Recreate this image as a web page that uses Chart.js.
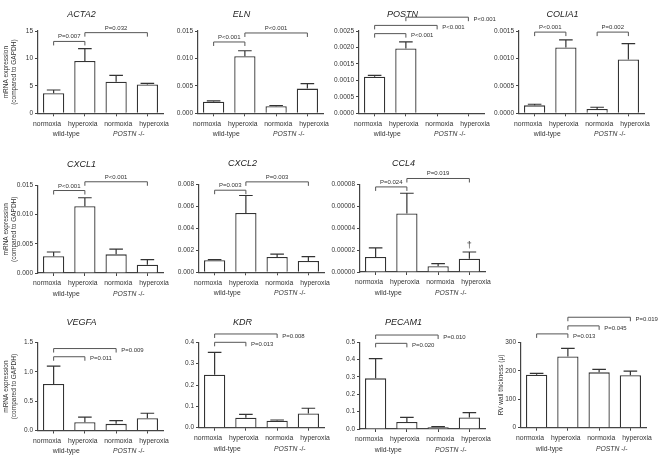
<!DOCTYPE html>
<html>
<head>
<meta charset="utf-8">
<script src="https://cdn.jsdelivr.net/npm/chart.js@4.4.0/dist/chart.umd.min.js"></script>
<style>
  body { margin: 0; background: #fff; }
  #fig { position: relative; width: 661px; height: 459px; overflow: hidden; }
  #fig canvas { position: absolute; }
</style>
</head>
<body>
<div id="fig"></div>
<script>
"use strict";
// ========== DATA ========== //
const categories = ['normoxia', 'hyperoxia', 'normoxia', 'hyperoxia'];
const groups = ['wild-type', 'POSTN -/-'];
const mrnaTitle = ['mRNA expression', '(compared to GAPDH)'];
const rvTitle = 'RV wall thickness (\u03bc)';

// mean, error (SEM) and y tick labels per gene; brackets = [from, to, level, label, label side]
const acta2Mean = [3.65, 9.55, 5.75, 5.27];
const acta2Err = [0.6, 2.25, 1.15, 0.18];
const acta2Ticks = ['0', '5', '10', '15'];
const acta2Brackets = [[0, 1, 13.1, 'P=0.007', 'above'], [1, 3, 14.7, 'P=0.032', 'above']];

const elnMean = [0.0021, 0.0104, 0.0013, 0.0045];
const elnErr = [0.00015, 0.001, 0.00012, 0.0009];
const elnTicks = ['0.000', '0.005', '0.010', '0.015'];
const elnBrackets = [[0, 1, 0.0130, 'P<0.001', 'above'], [1, 3, 0.01464, 'P<0.001', 'above']];

const postnMean = [0.00111, 0.00197, 0, 0];
const postnErr = [0.00004, 0.0002, 0, 0];
const postnTicks = ['0.0000', '0.0005', '0.0010', '0.0015', '0.0020', '0.0025'];
const postnBrackets = [[0, 1, 0.00242, 'P<0.001', 'right'], [0, 2, 0.00267, 'P<0.001', 'right'], [1, 3, 0.00292, 'P<0.001', 'right']];

const colia1Mean = [0.000145, 0.0012, 0.00008, 0.00098];
const colia1Err = [0.00002, 0.00014, 0.00003, 0.00029];
const colia1Ticks = ['0.0000', '0.0005', '0.0010', '0.0015'];
const colia1Brackets = [[0, 1, 0.00148, 'P<0.001', 'above'], [2, 3, 0.00148, 'P=0.002', 'above']];

const cxcl1Mean = [0.00286, 0.01145, 0.0032, 0.00143];
const cxcl1Err = [0.00074, 0.00145, 0.0009, 0.00087];
const cxcl1Ticks = ['0.000', '0.005', '0.010', '0.015'];
const cxcl1Brackets = [[0, 1, 0.01414, 'P<0.001', 'above'], [1, 3, 0.01564, 'P<0.001', 'above']];

const cxcl2Mean = [0.0011, 0.0054, 0.0014, 0.00103];
const cxcl2Err = [0.00005, 0.0016, 0.00025, 0.0004];
const cxcl2Ticks = ['0.000', '0.002', '0.004', '0.006', '0.008'];
const cxcl2Brackets = [[0, 1, 0.00748, 'P=0.003', 'above'], [1, 3, 0.00824, 'P=0.003', 'above']];

const ccl4Mean = [0.0000137, 0.0000535, 0.0000052, 0.0000122];
const ccl4Err = [0.0000083, 0.0000185, 0.0000024, 0.0000061];
const ccl4Ticks = ['0.00000', '0.00002', '0.00004', '0.00006', '0.00008'];
const ccl4Brackets = [[0, 1, 0.0000778, 'P=0.024', 'above'], [1, 3, 0.0000855, 'P=0.019', 'above']];

const vegfaMean = [0.795, 0.142, 0.114, 0.21];
const vegfaErr = [0.305, 0.085, 0.056, 0.085];
const vegfaTicks = ['0.0', '0.5', '1.0', '1.5'];
const vegfaBrackets = [[0, 1, 1.26, 'P=0.011', 'right'], [0, 2, 1.40, 'P=0.009', 'right']];

const kdrMean = [0.248, 0.047, 0.033, 0.067];
const kdrErr = [0.105, 0.0155, 0.003, 0.024];
const kdrTicks = ['0.0', '0.1', '0.2', '0.3', '0.4'];
const kdrBrackets = [[0, 1, 0.40, 'P=0.013', 'right'], [0, 2, 0.439, 'P=0.008', 'right']];

const pecam1Mean = [0.292, 0.0404, 0.0096, 0.067];
const pecam1Err = [0.114, 0.027, 0.004, 0.027];
const pecam1Ticks = ['0.0', '0.1', '0.2', '0.3', '0.4', '0.5'];
const pecam1Brackets = [[0, 1, 0.494, 'P=0.020', 'right'], [0, 2, 0.542, 'P=0.010', 'right']];

const rvMean = [186, 250, 194.5, 184];
const rvErr = [5, 29, 10.5, 15];
const rvTicks = ['0', '100', '200', '300'];
const rvBrackets = [[0, 1, 329.5, 'P=0.013', 'right'], [1, 2, 357.7, 'P=0.045', 'right'], [1, 3, 388, 'P=0.019', 'right']];

// ========== STYLE / LAYOUT ========== //
const FONT = "'Liberation Sans', Arial, sans-serif";
const INK = '#333';
const Y_AXIS_W = 38;
const X_AXIS_H = 28;
const TITLE_SIZE = 9;
const LABEL_SPREAD = 1.14; // category labels sit a bit wider apart than the tick marks

const _fig = document.querySelector('#fig');

// draws error bars, significance brackets, category and group labels
function annotPlugin(p) {
  return {
    id: 'annot',
    afterDatasetsDraw(chart) {
      const ctx = chart.ctx;
      const xs = chart.scales.x, ys = chart.scales.y;
      const meta = chart.getDatasetMeta(0);
      ctx.save();
      ctx.strokeStyle = INK;
      ctx.lineWidth = 1.2;
      p.mean.forEach(function(m, i) {
        if (!p.err[i]) return;
        const bar = meta.data[i];
        const cap = bar.width * 0.32;
        const y0 = ys.getPixelForValue(m), y1 = ys.getPixelForValue(m + p.err[i]);
        ctx.beginPath();
        ctx.moveTo(bar.x, y0); ctx.lineTo(bar.x, y1);
        ctx.moveTo(bar.x - cap, y1); ctx.lineTo(bar.x + cap, y1);
        ctx.stroke();
      });
      ctx.lineWidth = 1;
      ctx.strokeStyle = '#555';
      ctx.fillStyle = INK;
      ctx.font = '6px ' + FONT;
      p.brackets.forEach(function(b) {
        const xa = xs.getPixelForValue(b[0]), xb = xs.getPixelForValue(b[1]);
        const yl = ys.getPixelForValue(b[2]);
        ctx.beginPath();
        ctx.moveTo(xa, yl + 4); ctx.lineTo(xa, yl); ctx.lineTo(xb, yl); ctx.lineTo(xb, yl + 4);
        ctx.stroke();
        if (b[4] === 'above') {
          ctx.textAlign = 'center'; ctx.textBaseline = 'alphabetic';
          ctx.fillText(b[3], (xa + xb) / 2, yl - 3);
        } else {
          ctx.textAlign = 'left'; ctx.textBaseline = 'middle';
          ctx.fillText(b[3], xb + 5, yl + 2);
        }
      });
      if (p.marker) {
        const i = p.marker[0];
        ctx.font = '9px ' + FONT;
        ctx.textAlign = 'center'; ctx.textBaseline = 'alphabetic';
        ctx.fillText(p.marker[1], meta.data[i].x, ys.getPixelForValue(p.mean[i] + p.err[i]) - 4);
      }

      // category labels
      const mid = (xs.left + xs.right) / 2;
      const ly = chart.chartArea.bottom + 10.5;
      ctx.font = '6.8px ' + FONT;
      ctx.textAlign = 'center';
      ctx.textBaseline = 'middle';
      categories.forEach(function(c, i) {
        ctx.fillText(c, mid + (xs.getPixelForValue(i) - mid) * LABEL_SPREAD, ly);
      });

      // group labels
      const gy = chart.chartArea.bottom + 21;
      ctx.textAlign = 'left';
      [[0, 1], [2, 3]].forEach(function(pair, g) {
        const cx = (xs.getPixelForValue(pair[0]) + xs.getPixelForValue(pair[1])) / 2 - 3;
        const txt = groups[g];
        if (txt.indexOf('POSTN') === 0) {
          const rest = txt.slice(5);
          ctx.font = 'italic 6.8px ' + FONT;
          const w1 = ctx.measureText('POSTN').width;
          ctx.font = '6.8px ' + FONT;
          const w2 = ctx.measureText(rest).width;
          const x0 = cx - (w1 + w2) / 2;
          ctx.font = 'italic 6.8px ' + FONT;
          ctx.fillText('POSTN', x0, gy);
          ctx.font = '6.8px ' + FONT;
          ctx.fillText(rest, x0 + w1, gy);
        } else {
          ctx.font = '6.8px ' + FONT;
          ctx.textAlign = 'center';
          ctx.fillText(txt, cx, gy);
          ctx.textAlign = 'left';
        }
      });
      ctx.restore();
    }
  };
}

function makePanel(p) {
  const [left, top, right, bottom] = p.box;
  const cLeft = left - Y_AXIS_W;
  const cTop = Math.floor(p.titleY - TITLE_SIZE * 0.6 - 4);
  const cWidth = Math.round(2 * (p.titleX - cLeft));
  const cHeight = Math.ceil(bottom + X_AXIS_H + 2 - cTop);
  const canvas = document.createElement('canvas');
  canvas.width = cWidth;
  canvas.height = cHeight;
  canvas.style.left = cLeft + 'px';
  canvas.style.top = cTop + 'px';
  _fig.appendChild(canvas);

  const tickVals = p.ticks.map(Number);
  return new Chart(canvas, {
    type: 'bar',
    data: {
      labels: categories,
      datasets: [{
        data: p.mean,
        backgroundColor: '#fff',
        borderColor: INK,
        borderWidth: 1.3,
        barPercentage: 0.68,
        categoryPercentage: 1
      }]
    },
    options: {
      responsive: false,
      animation: false,
      devicePixelRatio: 1,
      layout: {
        padding: {
          left: 0, top: 0,
          right: cWidth - (right - cLeft),
          bottom: cHeight - (bottom + X_AXIS_H - cTop)
        }
      },
      plugins: {
        legend: { display: false },
        tooltip: { enabled: false },
        title: {
          display: true,
          text: p.title,
          color: '#222',
          font: { family: FONT, size: TITLE_SIZE, style: 'italic', weight: 'normal', lineHeight: 1.2 },
          padding: {
            top: p.titleY - TITLE_SIZE * 0.6 - cTop,
            bottom: top - p.titleY - TITLE_SIZE * 0.6
          }
        }
      },
      scales: {
        x: {
          offset: true,
          afterFit: function(s) { s.height = X_AXIS_H; },
          grid: { offset: false, drawOnChartArea: false, tickLength: 3, color: '#444' },
          border: { color: '#444', width: 1.2 },
          ticks: { display: false }
        },
        y: {
          min: 0,
          max: tickVals[tickVals.length - 1],
          afterFit: function(s) { s.width = Y_AXIS_W; },
          afterBuildTicks: function(s) { s.ticks = tickVals.map(v => ({ value: v })); },
          grid: { drawOnChartArea: false, tickLength: 3, color: '#444' },
          border: { color: '#444', width: 1.2 },
          ticks: {
            color: INK, padding: 2,
            font: { family: FONT, size: 6.5 },
            callback: function(v, i) { return p.ticks[i]; }
          },
          title: {
            display: !!p.yTitle,
            text: p.yTitle || '',
            color: INK,
            font: { family: FONT, size: 6.5, lineHeight: 1.12 },
            padding: { top: p.yTitlePad || 2.8, bottom: 0 }
          }
        }
      }
    },
    plugins: [annotPlugin(p)]
  });
}

makePanel({ title: 'ACTA2', mean: acta2Mean, err: acta2Err, ticks: acta2Ticks, brackets: acta2Brackets, yTitle: mrnaTitle, box: [38, 31, 163, 113.3], titleX: 96, titleY: 14 });
makePanel({ title: 'ELN', mean: elnMean, err: elnErr, ticks: elnTicks, brackets: elnBrackets, box: [198, 31, 323, 113.3], titleX: 251, titleY: 14 });
makePanel({ title: 'POSTN', mean: postnMean, err: postnErr, ticks: postnTicks, brackets: postnBrackets, box: [359, 31, 484, 113.3], titleX: 412, titleY: 14 });
makePanel({ title: 'COLIA1', mean: colia1Mean, err: colia1Err, ticks: colia1Ticks, brackets: colia1Brackets, box: [519, 31, 644, 113.3], titleX: 570, titleY: 14 });

makePanel({ title: 'CXCL1', mean: cxcl1Mean, err: cxcl1Err, ticks: cxcl1Ticks, brackets: cxcl1Brackets, yTitle: mrnaTitle, box: [38, 185.5, 163, 273], titleX: 96, titleY: 164.5 });
makePanel({ title: 'CXCL2', mean: cxcl2Mean, err: cxcl2Err, ticks: cxcl2Ticks, brackets: cxcl2Brackets, box: [199, 184.5, 324, 272.3], titleX: 249, titleY: 163.5 });
makePanel({ title: 'CCL4', mean: ccl4Mean, err: ccl4Err, ticks: ccl4Ticks, brackets: ccl4Brackets, marker: [3, '\u2020'], box: [360, 184.5, 485, 272], titleX: 410, titleY: 163.5 });

makePanel({ title: 'VEGFA', mean: vegfaMean, err: vegfaErr, ticks: vegfaTicks, brackets: vegfaBrackets, yTitle: mrnaTitle, box: [38, 342.7, 163, 430.5], titleX: 97.5, titleY: 322 });
makePanel({ title: 'KDR', mean: kdrMean, err: kdrErr, ticks: kdrTicks, brackets: kdrBrackets, box: [199, 342.3, 324, 427.7], titleX: 261, titleY: 322 });
makePanel({ title: 'PECAM1', mean: pecam1Mean, err: pecam1Err, ticks: pecam1Ticks, brackets: pecam1Brackets, box: [360, 342.3, 485, 429], titleX: 419, titleY: 322 });
makePanel({ title: '', mean: rvMean, err: rvErr, ticks: rvTicks, brackets: rvBrackets, yTitle: rvTitle, yTitlePad: 14.9, box: [521, 342.3, 646, 427.7], titleX: 572, titleY: 322 });
</script>
</body>
</html>
